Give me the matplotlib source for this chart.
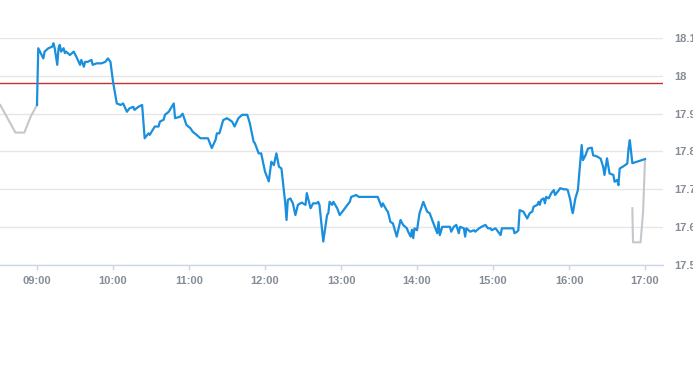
import matplotlib.pyplot as plt
import matplotlib.ticker as mticker

# minutes after 09:00 and prices
blue_min = [0, 1, 5, 6, 9, 12, 13, 14, 16, 17, 18, 19, 21, 22, 23, 26, 29, 31, 34, 35,
            37, 38, 40, 43, 44, 47, 51, 54, 56, 58, 60, 63, 66, 68, 71, 73, 76, 77, 80, 83,
            85, 88, 89, 93, 96, 97, 100, 101, 104, 108, 109, 113, 115, 118, 121, 123, 126, 129, 131, 135,
            138, 141, 142, 144, 147, 150, 154, 156, 159, 162, 166, 168, 171, 172, 175, 177, 180, 183, 185, 187,
            189, 191, 193, 196, 197, 198, 200, 202, 204, 206, 209, 212, 213, 216, 218, 221, 222, 223, 226, 229,
            230, 231, 233, 234, 237, 239, 242, 246, 247, 248, 252, 254, 269, 272, 273, 276, 277, 279, 281, 284,
            287, 289, 292, 293, 295, 296, 297, 298, 300, 302, 305, 308, 310, 313, 316, 317, 318, 320, 326, 327,
            329, 331, 333, 334, 337, 338, 339, 342, 345, 346, 349, 351, 354, 356, 358, 359, 362, 364, 366, 367,
            376, 377, 379, 380, 381, 384, 387, 389, 391, 392, 395, 396, 397, 398, 400, 401, 402, 404, 406, 408,
            409, 412, 413, 416, 418, 419, 421, 422, 423, 425, 427, 430, 431, 433, 434, 435, 438, 439, 442, 445,
            447, 448, 450, 452, 455, 456, 458, 459, 460, 463, 466, 467, 468, 470, 480]
blue_px = [17.923, 18.073, 18.046, 18.064, 18.073, 18.077, 18.086, 18.073, 18.029, 18.073, 18.082, 18.064, 18.073, 18.060, 18.064, 18.055, 18.064, 18.051, 18.029, 18.042,
           18.024, 18.037, 18.037, 18.042, 18.029, 18.033, 18.033, 18.037, 18.046, 18.037, 17.985, 17.927, 17.923, 17.927, 17.905, 17.914, 17.918, 17.910, 17.918, 17.923,
           17.835, 17.848, 17.844, 17.866, 17.866, 17.879, 17.884, 17.897, 17.905, 17.927, 17.888, 17.892, 17.900, 17.870, 17.862, 17.852, 17.844, 17.835, 17.835, 17.835,
           17.809, 17.831, 17.848, 17.848, 17.883, 17.888, 17.879, 17.866, 17.888, 17.897, 17.897, 17.875, 17.826, 17.822, 17.795, 17.795, 17.747, 17.721, 17.773, 17.764,
           17.795, 17.760, 17.755, 17.663, 17.619, 17.672, 17.676, 17.663, 17.632, 17.659, 17.665, 17.659, 17.690, 17.650, 17.663, 17.663, 17.667, 17.659, 17.562, 17.632,
           17.637, 17.667, 17.659, 17.667, 17.650, 17.632, 17.645, 17.663, 17.667, 17.680, 17.685, 17.680, 17.680, 17.654, 17.663, 17.645, 17.641, 17.614, 17.610, 17.575,
           17.619, 17.606, 17.597, 17.588, 17.575, 17.593, 17.571, 17.597, 17.592, 17.637, 17.667, 17.641, 17.637, 17.610, 17.584, 17.614, 17.579, 17.601, 17.601, 17.588,
           17.601, 17.606, 17.584, 17.601, 17.597, 17.575, 17.597, 17.588, 17.592, 17.588, 17.597, 17.601, 17.606, 17.597, 17.597, 17.592, 17.597, 17.588, 17.579, 17.597,
           17.597, 17.584, 17.588, 17.592, 17.645, 17.641, 17.623, 17.637, 17.641, 17.654, 17.659, 17.667, 17.659, 17.672, 17.676, 17.663, 17.680, 17.676, 17.690, 17.698,
           17.685, 17.698, 17.703, 17.700, 17.700, 17.698, 17.672, 17.650, 17.637, 17.676, 17.698, 17.817, 17.777, 17.790, 17.799, 17.808, 17.810, 17.790, 17.787, 17.781,
           17.759, 17.738, 17.782, 17.742, 17.738, 17.720, 17.725, 17.711, 17.755, 17.761, 17.768, 17.808, 17.830, 17.769, 17.780]

# grey pieces before the open and at the close
pre_min = [-29, -17, -10, -5, 0]
pre_px = [17.923, 17.850, 17.850, 17.892, 17.923]
post_min = [470, 470.5, 476.5, 478.5, 480]
post_px = [17.650, 17.560, 17.560, 17.641, 17.780]

ref_price = 17.981
tick_min = [0, 60, 120, 180, 240, 300, 360, 420, 480]
tick_lbl = ['09:00', '10:00', '11:00', '12:00', '13:00', '14:00', '15:00', '16:00', '17:00']
y_ticks = [17.5, 17.6, 17.7, 17.8, 17.9, 18.0, 18.1]

fig = plt.figure(figsize=(6.93, 3.65), dpi=100)
ax = fig.add_axes([0, 100 / 365, 663 / 693, 227 / 365])

ax.plot(pre_min, pre_px, color='#c3c8cd', lw=1.5, zorder=3)
ax.plot(post_min, post_px, color='#c3c8cd', lw=1.5, zorder=3)
ax.plot(blue_min, blue_px, color='#1a8fdd', lw=1.6, zorder=4)
ax.axhline(ref_price, color='#c8322c', lw=1, zorder=2)

ax.set_xlim(-29.2, 494.2)
ax.set_ylim(17.5, 18.1)

ax.set_yticks(y_ticks)
ax.yaxis.set_major_formatter(mticker.FuncFormatter(lambda v, p: f'{v:g}'))
ax.yaxis.tick_right()
ax.grid(axis='y', color='#e6e6e6', lw=1, zorder=0)
ax.set_xticks(tick_min)
ax.set_xticklabels(tick_lbl)

for s in ['top', 'left', 'right']:
    ax.spines[s].set_visible(False)
ax.spines['bottom'].set_color('#ccd6eb')
ax.spines['bottom'].set_linewidth(1)
ax.tick_params(axis='x', colors='#ccd6eb', length=3.6, width=1, pad=4.5,
               labelcolor='#858c95', labelsize=8)
ax.tick_params(axis='y', length=0, pad=8, labelcolor='#858c95', labelsize=8)
for t in ax.get_xticklabels() + ax.get_yticklabels():
    t.set_family('Liberation Sans')
    t.set_fontweight('bold')

fig.savefig('out.png', dpi=100)
